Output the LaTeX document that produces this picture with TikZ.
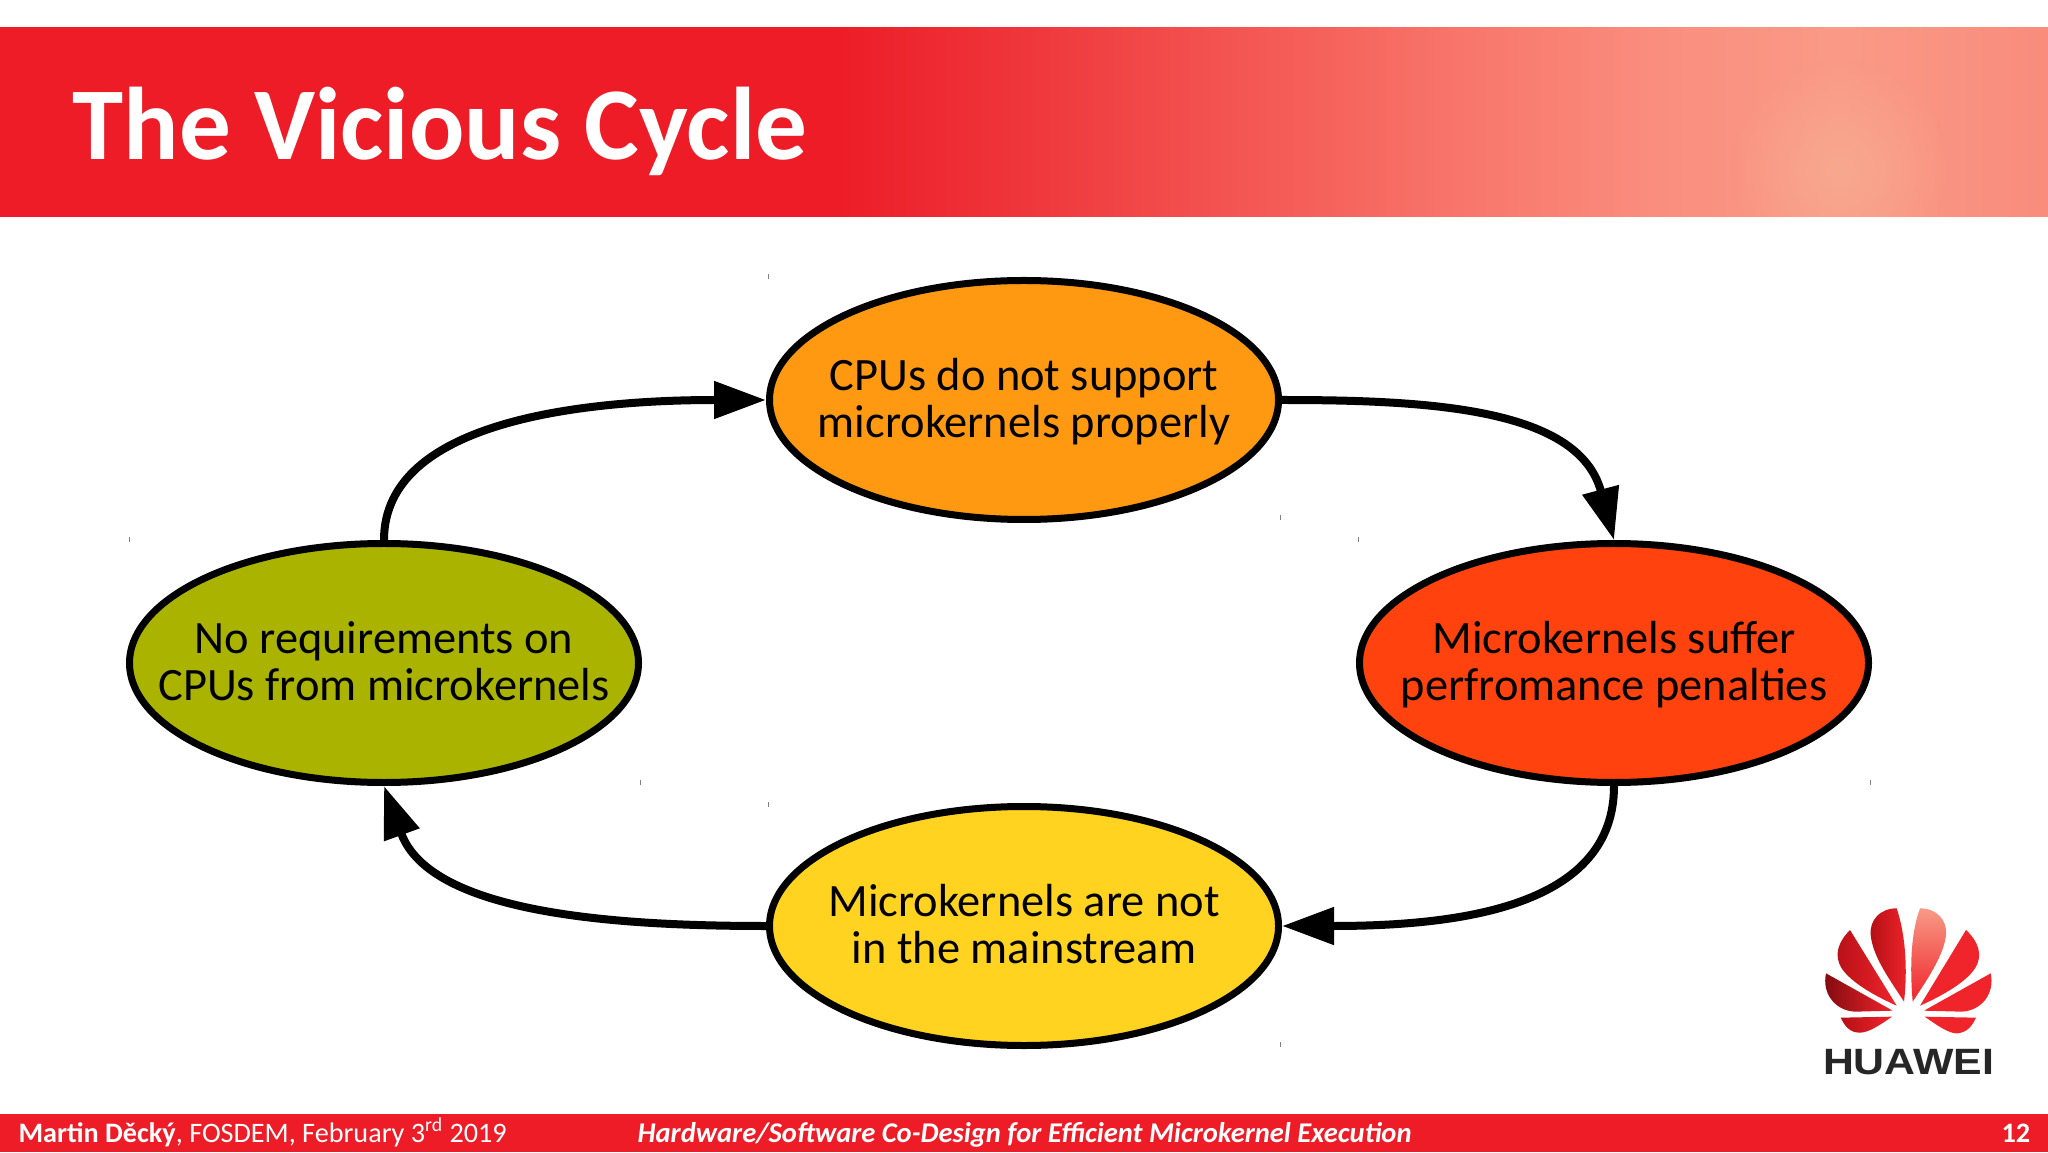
\documentclass[tikz,border=0pt]{standalone}
\usepackage{fontspec}
\setmainfont{Carlito}
\newfontfamily\logofont{Liberation Sans}
\usepackage{tikz}
\usetikzlibrary{arrows.meta,shapes.geometric,fadings}

\definecolor{slidered}{HTML}{ED1C27}
\definecolor{slidepink}{HTML}{F8A890}
\definecolor{logodark}{HTML}{B50F16}
\definecolor{logolight}{HTML}{F0242B}
\definecolor{fadea}{HTML}{EE3338}
\definecolor{fadeb}{HTML}{F8746A}
\definecolor{fadec}{HTML}{FA8E7E}
\definecolor{faded}{HTML}{FA9A86}
\definecolor{fadee}{HTML}{F98C7C}
\pgfdeclarehorizontalshading{headerfade}{100bp}{color(0bp)=(slidered); color(45.3bp)=(slidered);
  color(49.4bp)=(fadea); color(60.4bp)=(fadeb); color(65.5bp)=(fadec); color(69.9bp)=(faded);
  color(75bp)=(fadee); color(100bp)=(fadee)}
\tikzfading[name=glow,inner color=transparent!0,outer color=transparent!100]
\newcommand{\twolines}[2]{\strut #1\\\strut #2}

\begin{document}
\begin{tikzpicture}[x=0.5pt,y=0.5pt,>={Triangle[length=26pt,width=18pt]},semithick]
  \tikzstyle{every cycle}=[ellipse,draw=black,line width=3.5pt,minimum width=254.5pt,minimum height=119.5pt,inner sep=0pt]
  \tikzstyle{cycletext}=[align=center,text=black,inner sep=0pt,yshift=-2.3pt,font=\fontsize{23.2}{23.5}\selectfont]
  \tikzstyle{link}=[->,line width=4pt,black]
  \tikzstyle{footer}=[text=white,inner sep=0pt,anchor=base west,font=\fontsize{14.1}{16}\selectfont]
  \tikzstyle{petal}=[draw=none,left color=logodark,right color=logolight]
  \tikzstyle{petalb}=[draw=none,fill=logolight]

  \useasboundingbox (0,0) rectangle (2048,1152);
  \fill[white] (0,0) rectangle (2048,1152);

  % header and footer
  \shade[shading=headerfade] (0,935) rectangle (2048,1124);
  \begin{scope}
    \clip (0,935) rectangle (2048,1124);
    \fill[slidepink,path fading=glow] (1840,982) circle (110);
  \end{scope}
  \fill[slidered] (0,0) rectangle (2048,38);

  \node[text=white,inner sep=0pt,anchor=base west,font=\fontsize{51.6}{54}\bfseries\selectfont] (title) at (72,992) {The Vicious Cycle};

  \node[footer] (speaker) at (18,10) {\textbf{Martin Děcký}, FOSDEM, February 3\textsuperscript{rd} 2019};
  \node[footer,font=\fontsize{14.28}{16}\selectfont] (talk) at (637,10) {\textbf{\textit{Hardware/Software Co-Design for Efficient Microkernel Execution}}};
  \node[footer] (page) at (2001,10) {\textbf{12}};

  % the four states
  \node[every cycle,fill={rgb,255:red,255;green,153;blue,17}] (cpus) at (1024,752) {};
  \node[every cycle,fill={rgb,255:red,255;green,66;blue,14}]  (perf) at (1614,489) {};
  \node[every cycle,fill={rgb,255:red,255;green,211;blue,32}] (main) at (1024,226) {};
  \node[every cycle,fill={rgb,255:red,170;green,180;blue,0}]  (reqs) at (384,489)  {};

  \node[cycletext] (cpustext) at (cpus) {\twolines{CPUs do not support}{microkernels properly}};
  \node[cycletext] (perftext) at (perf) {\twolines{Microkernels suffer}{perfromance penalties}};
  \node[cycletext] (maintext) at (main) {\twolines{Microkernels are not}{in the mainstream}};
  \node[cycletext] (reqstext) at (reqs) {\twolines{No requirements on}{CPUs from microkernels}};

  \path (cpus.east)  edge[link,out=0,in=105,out distance=75pt,in distance=68pt] (perf.north)
        (perf.south) edge[link,out=-90,in=0,out distance=60pt,in distance=90pt] (main.east)
        (main.west)  edge[link,out=180,in=-70,out distance=75pt,in distance=68pt] (reqs.south)
        (reqs.north) edge[link,out=90,in=180,out distance=60pt,in distance=90pt] (cpus.west);

  % stray marks
  \foreach \x/\y in {768/873,129/610,1280/632,1358/610,640/367,768/345,1870/367,1280/105}
    \draw[gray,line width=0.5pt] (\x,\y) -- (\x,\y+5);

  % logo
  \begin{scope}[shift={(1780,272)},x=0.16667pt,y=-0.16667pt]
    \path[petal] (372,365) .. controls (385,250) and (372,150) .. (350,85)
                 .. controls (300,85) and (268,120) .. (272,165) .. controls (278,230) and (330,300) .. cycle;
    \path[draw=none,top color=slidepink!90!logolight,bottom color=logolight] (398,365) .. controls (388,250) and (395,150) .. (420,85)
                 .. controls (470,85) and (502,120) .. (498,165) .. controls (490,230) and (440,300) .. cycle;
    \path[petal] (350,377) -- (210,150) .. controls (175,185) and (160,225) .. (185,265) .. controls (215,310) and (290,350) .. cycle;
    \path[petalb] (420,377) -- (558,150) .. controls (595,185) and (610,225) .. (585,265) .. controls (555,310) and (480,350) .. cycle;
    \path[draw=none,left color=logodark!70!black,right color=logolight] (338,392) -- (138,280) .. controls (125,340) and (165,392) .. (225,395) -- cycle;
    \path[petalb] (432,392) -- (632,280) .. controls (645,340) and (605,392) .. (545,395) -- cycle;
    \path[petal] (182,413) -- (336,410) .. controls (300,435) and (265,458) .. (240,458) .. controls (210,458) and (195,440) .. cycle;
    \path[petalb] (588,413) -- (434,410) .. controls (470,435) and (505,460) .. (530,460) .. controls (560,458) and (575,440) .. cycle;
    \node[text=black!85,inner sep=0pt,anchor=base,font=\logofont\fontsize{18.3}{20}\bfseries\selectfont] (brand) at (386,583) {\scalebox{1.17}[1]{HUAWEI}};
  \end{scope}
\end{tikzpicture}
\end{document}
